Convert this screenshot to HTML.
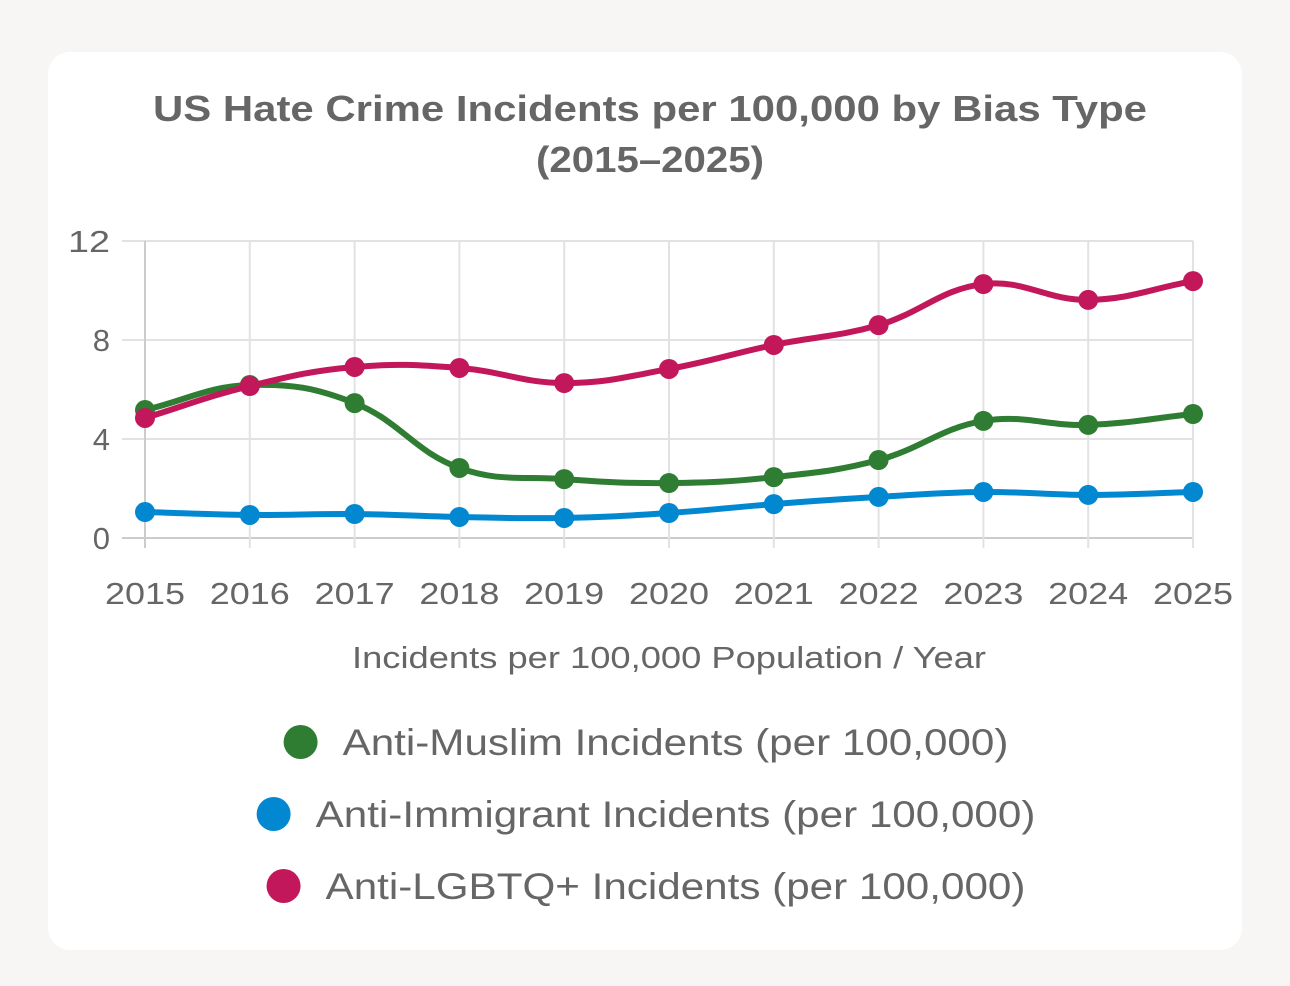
<!DOCTYPE html>
<html><head><meta charset="utf-8"><style>
html,body{margin:0;padding:0;background:#f7f6f4;width:1290px;height:986px;overflow:hidden;font-family:"Liberation Sans",Arial,sans-serif}
.card{position:absolute;left:48px;top:52px;width:1194px;height:898px;background:#fff;border-radius:22px}
</style></head><body>
<div class="card"></div>
<svg id="chart" width="1290" height="986" style="position:absolute;left:0;top:0">
<text x="650" y="121" text-anchor="middle" font-size="36" font-weight="bold" fill="#666" textLength="994" lengthAdjust="spacingAndGlyphs">US Hate Crime Incidents per 100,000 by Bias Type</text>
<text x="650" y="172" text-anchor="middle" font-size="36" font-weight="bold" fill="#666" textLength="228" lengthAdjust="spacingAndGlyphs">(2015–2025)</text>
<text x="669" y="668" text-anchor="middle" font-size="31" fill="#666" textLength="634" lengthAdjust="spacingAndGlyphs">Incidents per 100,000 Population / Year</text>
</svg>
<script>
const years=[2015,2016,2017,2018,2019,2020,2021,2022,2023,2024,2025];
const muslim=[5.17,6.18,5.45,2.83,2.38,2.22,2.46,3.15,4.73,4.57,5.01];
const immigrant=[1.05,0.93,0.97,0.85,0.81,1.01,1.37,1.66,1.86,1.74,1.86];
const lgbtq=[4.85,6.14,6.91,6.87,6.26,6.83,7.8,8.6,10.26,9.62,10.38];
const yTicks=[0,4,8,12];
const seriesNames=["Anti-Muslim Incidents (per 100,000)","Anti-Immigrant Incidents (per 100,000)","Anti-LGBTQ+ Incidents (per 100,000)"];
const NS="http://www.w3.org/2000/svg";
const svg=document.getElementById('chart');
const x0=145,x1=1193,yb=538,yt=241,ymax=12;
const xs=i=>x0+(x1-x0)*i/(years.length-1);
const ys=v=>yb-(yb-yt)*v/ymax;
function mk(t,a){const e=document.createElementNS(NS,t);for(const k in a)e.setAttribute(k,a[k]);svg.appendChild(e);return e;}
yTicks.forEach(v=>{
 const g=mk('line',{x1:122,x2:x1,y1:ys(v),y2:ys(v),stroke:v===0?'#ccc':'#e2e2e2','stroke-width':2});
 
 
 const t=mk('text',{x:110,y:ys(v)+11,'text-anchor':'end','font-size':31,fill:'#666'});
 t.textContent=v;
 
 
 if(String(v).length===2){t.setAttribute('textLength',42);t.setAttribute('lengthAdjust','spacingAndGlyphs');}
});
years.forEach((y,i)=>{
 const g=mk('line',{x1:xs(i),x2:xs(i),y1:yt,y2:yb+10,stroke:i===0?'#ccc':'#e2e2e2','stroke-width':2});
 
 
 const t=mk('text',{x:xs(i),y:604,'text-anchor':'middle','font-size':31,fill:'#666',textLength:80,lengthAdjust:'spacingAndGlyphs'});
 t.textContent=y;
 
 
});
function path(vals){
 const p=vals.map((v,i)=>[xs(i),ys(v)]);const T=0.4;
 let d='M'+p[0][0]+','+p[0][1];
 const cp=p.map((c,i)=>{const pr=p[i-1]||c,nx=p[i+1]||c;
  const d01=Math.hypot(c[0]-pr[0],c[1]-pr[1]),d12=Math.hypot(nx[0]-c[0],nx[1]-c[1]);
  let fa=d01/(d01+d12)||0,fb=d12/(d01+d12)||0;fa*=T;fb*=T;
  return {p:[c[0]-fa*(nx[0]-pr[0]),c[1]-fa*(nx[1]-pr[1])],n:[c[0]+fb*(nx[0]-pr[0]),c[1]+fb*(nx[1]-pr[1])]};});
 for(let i=1;i<p.length;i++)d+=` C${cp[i-1].n[0]},${cp[i-1].n[1]} ${cp[i].p[0]},${cp[i].p[1]} ${p[i][0]},${p[i][1]}`;
 return d;
}
const series=[[muslim,'#2e7d32','muslim'],[immigrant,'#0288d1','immigrant'],[lgbtq,'#c2185b','lgbtq']];
[series[1],series[0],series[2]].forEach(([vals,c,n])=>{
 const l=mk('path',{d:path(vals),fill:'none',stroke:c,'stroke-width':6});
 
 
 vals.forEach((v,i)=>{
  const pt=mk('circle',{cx:xs(i),cy:ys(v),r:10,fill:c});
  
  
 });
});
const legY=[742,814,886];
series.forEach(([v,c,n],i)=>{
 const t=mk('text',{x:0,y:legY[i]+13,'font-size':37,fill:'#666'});
 t.textContent=seriesNames[i];
 
 
 const w=t.getComputedTextLength()*1.14;
 t.setAttribute('textLength',w);t.setAttribute('lengthAdjust','spacingAndGlyphs');
 const ts=646-(w+59)/2+59;
 t.setAttribute('x',ts);
 const cc=mk('circle',{cx:ts-42,cy:legY[i],r:17,fill:c});
 
 
});
</script>
</body></html>
